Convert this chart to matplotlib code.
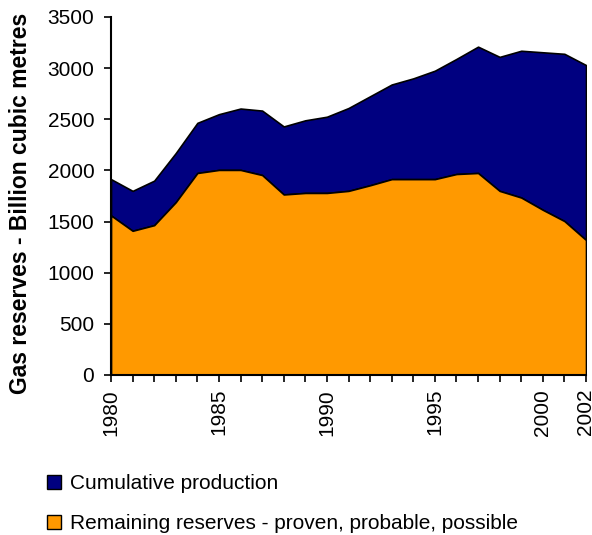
import matplotlib
matplotlib.use("Agg")
import matplotlib.pyplot as plt
from matplotlib.patches import Patch
from matplotlib.ticker import MultipleLocator

plt.rcParams['font.family'] = ['Liberation Sans', 'DejaVu Sans']

years = list(range(1980, 2003))
remaining = [1560, 1410, 1465, 1690, 1975, 2005, 2005, 1955, 1765, 1780,
             1780, 1800, 1855, 1915, 1915, 1915, 1965, 1975, 1800, 1735,
             1615, 1505, 1320]
cumulative = [355, 390, 435, 480, 490, 545, 600, 630, 665, 710,
              745, 810, 870, 925, 985, 1060, 1125, 1235, 1310, 1435,
              1540, 1635, 1710]
year_labels = [1980, 1985, 1990, 1995, 2000, 2002]
series_names = ["Cumulative production",
                "Remaining reserves - proven, probable, possible"]
colors = {"Cumulative production": "#000080",
          "Remaining reserves - proven, probable, possible": "#FF9900"}

total = [r + c for r, c in zip(remaining, cumulative)]

fig = plt.figure(figsize=(5.92, 5.35), dpi=100)
ax = fig.add_axes([111 / 592, 1 - 375 / 535, 475 / 592, 358 / 535])

ax.fill_between(years, 0, remaining, facecolor=colors[series_names[1]],
                edgecolor="black", linewidth=1.2, zorder=2)
ax.fill_between(years, remaining, total, facecolor=colors[series_names[0]],
                edgecolor="black", linewidth=1.2, zorder=1)

ax.set_xlim(1980, 2002)
ax.set_ylim(0, 3500)
ax.yaxis.set_major_locator(MultipleLocator(500))
ax.set_xticks(years)
ax.set_xticklabels([str(y) if y in year_labels else "" for y in years],
                   rotation=90)

for side in ("top", "right"):
    ax.spines[side].set_visible(False)
for side in ("left", "bottom"):
    ax.spines[side].set_linewidth(1.5)
    ax.spines[side].set_zorder(5)

ax.tick_params(axis="both", direction="out", length=5, width=1.2,
               labelsize=15, color="black")
ax.tick_params(axis="y", pad=7)
ax.tick_params(axis="x", pad=5)

ax.set_ylabel("Gas reserves - Billion cubic metres", fontsize=16.5,
              fontweight="bold", va="center")
ax.yaxis.set_label_coords(-0.19, 0.48)

handles = [Patch(facecolor=colors[n], edgecolor="black", linewidth=1.0)
           for n in series_names]
fig.legend(handles, series_names, loc="upper left",
           bbox_to_anchor=(39 / 592, 1 - 466 / 535), frameon=False,
           fontsize=15, handlelength=0.65, handleheight=0.65,
           handletextpad=0.45, labelspacing=1.0, borderaxespad=0)

fig.savefig("out.png", dpi=100)
